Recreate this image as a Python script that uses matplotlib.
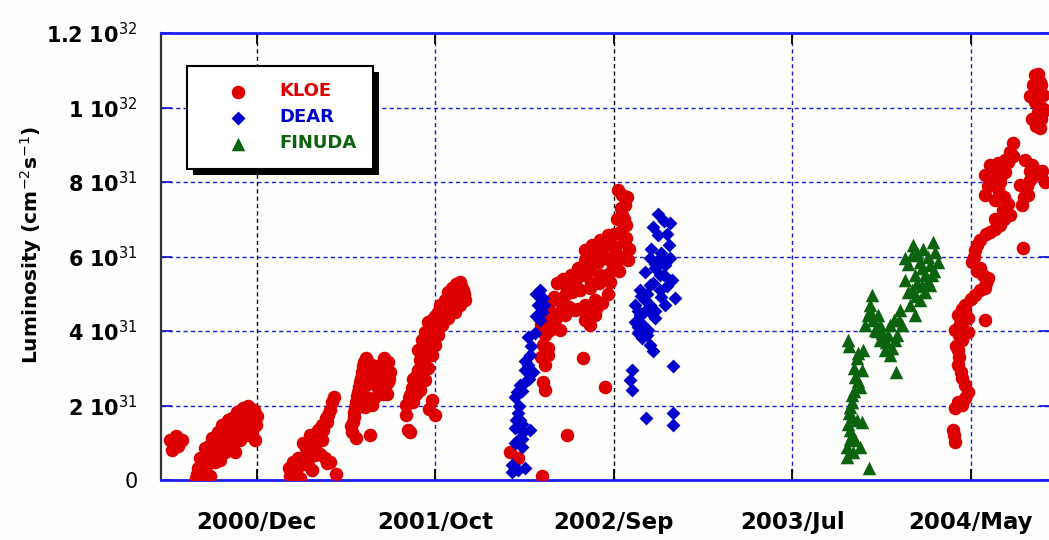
import matplotlib
matplotlib.use("Agg")
import matplotlib.pyplot as plt
from matplotlib.patches import Rectangle

plt.rcParams['font.family'] = ['DejaVu Sans']
plt.rcParams['mathtext.fontset'] = 'dejavusans'

# x: days counted from the 2000/Dec tick; y: luminosity in units of 1e31 cm^-2 s^-1
tick_days = [0, 300, 600, 900, 1200]
tick_labels = ["2000/Dec", "2001/Oct", "2002/Sep", "2003/Jul", "2004/May"]
tick_colors = ["black", "#1c1cd0", "black", "#1c1cd0", "#1c1cd0"]
lum_ticks = [0, 2, 4, 6, 8, 10, 12]
lum_labels = ["0", r"$\mathbf{2\ 10}^{31}$", r"$\mathbf{4\ 10}^{31}$", r"$\mathbf{6\ 10}^{31}$",
              r"$\mathbf{8\ 10}^{31}$", r"$\mathbf{1\ 10}^{32}$", r"$\mathbf{1.2\ 10}^{32}$"]

# KLOE runs: 2000, 2001 (three fills), 2002, 2004
kloe_day = [
    -146, -133, -126, -143, -136,
    -103, -91, -79, -99, -86, -96, -79, -71, -87, -76, -66, -59, -49, -42, -34,
    -24, -15, -5, 0, -2, -3, -8, -20, -32, -45, -37, -54, -62, -71, -49, -29,
    -62, -79, -96, -54, -29, -15,
    -91, -84, -74, -66, -57, -44, -38, -28, -20, -10, -12, -8, -40, -56, -66,
    -100, -86, -91, -80, -70, -45, -35, -25, -15, -40,
    55, 64, 72, 61, 77, 86, 77, 92, 99, 103, 109, 116, 123, 126, 129, 109, 97,
    114, 123, 133, 86, 72, 92, 54, 89,
    60, 68, 80, 70, 82, 95, 100, 105, 112, 118, 120, 96, 106, 118,
    160, 161, 163, 166, 170, 173, 176, 180, 183, 193, 200, 207, 213, 220, 224,
    220, 215, 203, 193, 183, 176, 187, 193, 173, 190, 166, 190,
    158, 163, 165, 168, 171, 175, 178, 186, 190, 197, 205, 211, 218, 222, 218,
    210, 205, 197, 182,
    254, 250, 257, 261, 266, 271, 274, 271, 277, 282, 287, 294, 304, 308, 316,
    321, 328, 334, 341, 346, 350, 341, 333, 321, 311, 304, 299, 294, 287, 282,
    274, 294, 299, 284, 291, 250, 257,
    262, 268, 270, 276, 279, 280, 285, 289, 295, 300, 306, 313, 318, 325, 330,
    337, 343, 348, 300, 288, 276, 268, 262, 255, 290,
    607, 613, 618, 613, 620, 610, 617, 624, 551, 563, 576, 590, 597, 585, 573,
    560, 576, 597, 607, 593, 506, 518, 529, 543, 560, 568, 551, 534, 518, 501,
    509, 551, 568, 560, 484, 492, 484, 481, 489, 484, 481, 484, 548, 585, 521,
    479, 425, 439, 526, 543, 576, 593, 602,
    505, 515, 528, 540, 552, 565, 580, 592, 600, 605, 612, 617, 622, 520, 535,
    548, 562, 575, 588, 600, 608, 615, 620, 625, 512, 525, 540, 556, 570, 580,
    590, 500, 478, 486, 495, 500, 490, 490, 478,
    1308, 1316, 1313, 1308, 1313, 1308, 1316, 1324, 1321,
    1271, 1266, 1262, 1232, 1224, 1240, 1257, 1249, 1232, 1224, 1240, 1254,
    1291, 1303, 1316, 1299, 1296, 1286, 1282, 1324, 1287, 1266,
    1249, 1232, 1215, 1207, 1202, 1215, 1229, 1224, 1207, 1190, 1178, 1195,
    1224, 1173, 1185, 1195, 1178, 1178, 1185, 1195, 1185, 1173, 1170, 1173,
    1305, 1312, 1318, 1310, 1270, 1258, 1245, 1235, 1250, 1228, 1245, 1256, 1262,
    1300, 1310, 1320, 1295, 1290, 1240, 1255, 1225, 1240, 1210, 1205, 1210, 1220,
    1225, 1215, 1200, 1185, 1182, 1190, 1180, 1190, 1175, 1180, 1183, 1190, 1190,
    1178, 1172, 1300, 1302, 1320, 1318, 1312,
]
kloe_lum = [
    1.07, 0.91, 1.07, 0.81, 1.18,
    0.05, 0.05, 0.11, 0.32, 0.38, 0.59, 0.67, 0.94, 0.86, 1.13, 1.29, 1.48, 1.61, 1.66, 1.83,
    1.93, 1.99, 1.88, 1.72, 1.48, 1.07, 1.29, 1.34, 1.29, 1.07, 0.75, 0.75, 0.54, 0.48, 0.94, 1.56,
    1.07, 0.48, 0.21, 1.21, 1.07, 1.66,
    0.30, 0.55, 0.75, 0.90, 1.05, 1.25, 1.45, 1.75, 1.70, 1.60, 1.45, 1.85, 0.95, 0.95, 0.70,
    0.15, 0.20, 0.45, 0.90, 1.15, 1.45, 1.55, 1.45, 1.20, 1.15,
    0.11, 0.27, 0.40, 0.48, 0.59, 0.75, 0.99, 0.94, 1.13, 1.34, 1.48, 1.66, 1.88, 2.09, 2.23, 1.07, 0.67,
    0.59, 0.48, 0.16, 0.40, 0.05, 0.27, 0.32, 1.21,
    0.20, 0.35, 0.50, 0.60, 0.85, 0.80, 1.00, 1.20, 1.35, 1.55, 1.75, 1.10, 0.70, 0.45,
    1.29, 1.56, 1.83, 2.09, 2.36, 2.63, 2.90, 3.17, 3.28, 3.09, 2.90, 3.09, 3.28, 3.17, 2.90,
    2.63, 2.42, 2.47, 2.63, 2.55, 2.28, 2.20, 2.01, 2.01, 1.21, 1.13, 2.82,
    1.45, 1.70, 1.95, 2.25, 2.50, 2.75, 3.05, 3.20, 3.00, 2.80, 2.70, 2.85, 2.95, 2.70, 2.30,
    2.30, 2.55, 2.20, 1.95,
    1.34, 2.01, 2.28, 2.47, 2.68, 2.95, 3.22, 3.49, 3.76, 3.97, 4.24, 4.30, 4.51, 4.70, 4.83,
    5.05, 5.15, 5.26, 5.32, 5.10, 4.83, 4.70, 4.51, 4.35, 4.16, 3.89, 3.62, 3.36, 3.01, 2.68,
    2.42, 2.15, 1.74, 3.62, 4.03, 1.74, 1.29,
    2.10, 2.30, 2.60, 2.85, 3.10, 3.35, 3.30, 3.80, 3.95, 4.15, 4.30, 4.45, 4.60, 4.75, 4.95,
    5.00, 5.20, 5.00, 4.40, 4.00, 3.30, 2.80, 2.70, 2.20, 1.90,
    7.79, 7.65, 7.38, 7.11, 6.85, 6.66, 6.39, 5.91, 6.17, 6.31, 6.44, 6.58, 6.31, 5.96, 5.85,
    5.64, 5.50, 5.64, 5.91, 5.32, 4.83, 4.97, 5.05, 5.10, 5.15, 4.83, 4.70, 4.56, 4.43, 4.30,
    4.03, 4.30, 4.43, 4.16, 4.30, 4.03, 3.89, 3.62, 3.36, 3.09, 2.63, 2.42, 3.28, 2.50, 1.21,
    0.11, 0.75, 0.59, 5.37, 5.50, 6.04, 5.91, 6.17,
    5.30, 5.40, 5.50, 5.70, 5.90, 6.00, 6.20, 6.40, 6.60, 7.00, 7.30, 7.00, 7.60, 5.20, 5.30,
    5.50, 5.30, 5.30, 5.50, 5.70, 5.60, 6.00, 6.50, 6.20, 4.55, 4.65, 4.60, 4.55, 4.60, 4.75,
    5.00, 4.90, 4.20, 4.45, 4.20, 4.45, 4.65, 3.55, 3.30,
    10.87, 10.68, 10.42, 10.15, 9.88, 9.66, 9.45, 9.93, 10.34,
    9.05, 8.81, 8.54, 8.46, 8.19, 8.32, 8.27, 8.00, 7.92, 7.65, 7.52, 7.25,
    8.59, 8.46, 8.19, 8.05, 7.65, 7.38, 7.92, 8.00, 6.23, 7.11,
    6.85, 6.66, 6.44, 6.17, 5.85, 5.69, 5.42, 5.15, 4.97, 4.70, 4.43, 4.35,
    4.30, 4.03, 3.76, 3.97, 3.49, 3.09, 2.74, 2.36, 2.01, 1.93, 1.34, 1.02,
    10.60, 10.20, 9.70, 9.50, 8.70, 8.60, 8.50, 8.10, 8.20, 7.90, 7.80, 7.60, 7.40,
    8.30, 8.30, 8.30, 7.90, 7.60, 7.00, 7.00, 6.60, 6.75, 6.30, 6.00, 5.60, 5.50,
    5.30, 5.10, 4.85, 4.60, 4.20, 4.50, 3.90, 4.00, 3.60, 3.30, 2.90, 2.55, 2.20,
    2.10, 1.20, 10.30, 9.70, 10.00, 10.60, 10.90,
]

# DEAR runs: early 2002 and late 2002
dear_day = [
    476, 481, 472, 479, 476, 455, 467, 459, 455, 464, 450, 442, 437, 450, 434,
    439, 442, 434, 447, 459, 439, 445, 429, 439, 450, 429,
    470, 482, 470, 461, 450, 457, 446, 440, 436, 445, 434, 445,
    674, 694, 666, 674, 692, 661, 677, 694, 686, 669, 652, 677, 697, 661, 644,
    677, 703, 652, 635, 661, 686, 644, 669, 635, 657, 647, 661, 640, 666, 699,
    630, 627, 630, 654, 699, 699,
    640, 650, 660, 670, 680, 690, 685, 665, 655, 645, 640, 648, 655, 670, 680,
    662, 690, 684,
]
dear_lum = [
    5.10, 4.89, 4.70, 4.51, 4.30, 3.84, 3.95, 3.36, 3.09, 2.90, 2.95, 2.55, 2.36, 2.63, 2.23,
    1.80, 1.61, 1.40, 1.29, 1.34, 1.07, 0.89, 0.40, 0.27, 0.32, 0.21,
    5.00, 4.70, 4.40, 3.60, 3.20, 2.70, 2.40, 2.00, 1.60, 1.50, 1.00, 1.10,
    7.14, 6.90, 6.79, 6.58, 6.31, 5.96, 5.96, 5.96, 5.77, 5.69, 5.58, 5.50, 5.37, 5.23, 5.10,
    5.10, 4.89, 4.83, 4.70, 4.70, 4.70, 4.43, 4.35, 4.24, 4.03, 3.81, 3.62, 3.95, 3.46, 3.06,
    2.95, 2.68, 2.42, 1.66, 1.80, 1.48,
    4.55, 4.50, 4.50, 4.55, 4.90, 5.20, 5.50, 5.30, 5.00, 4.95, 4.10, 4.20, 3.90, 5.80, 6.10,
    6.20, 6.60, 6.95,
]

# FINUDA run: 2003-2004
finuda_day = [
    1103, 1136, 1089, 1101, 1114, 1140, 1145, 1131, 1123, 1106, 1089, 1101, 1114, 1097,
    1131, 1123, 1106,
    1034, 1030, 1027, 1044, 1022, 1039, 1047, 1055, 1064, 1072, 1081, 1084, 1064, 1047, 1074,
    993, 1018, 1008, 1017, 1005, 1013, 1000, 997, 1000, 1017, 997, 992, 1013, 992, 1029, 1005,
    1095, 1110, 1120, 1128, 1138, 1118, 1110, 1095, 1108, 1118, 1135, 1128,
    1030, 1036, 1042, 1050, 1058, 1068, 1076, 1080, 1070, 1060,
    996, 1010, 1003, 1010, 1004, 1000, 996, 1008, 994, 1000, 1002, 997,
]
finuda_lum = [
    6.31, 6.39, 5.96, 6.04, 5.85, 6.12, 5.85, 5.77, 5.50, 5.50, 5.37, 5.10, 4.83, 4.70,
    5.23, 5.05, 4.43,
    4.97, 4.70, 4.43, 4.43, 4.16, 4.03, 3.76, 3.49, 3.36, 3.76, 4.56, 4.16, 4.16, 4.16, 2.90,
    3.76, 3.49, 3.28, 2.95, 2.77, 2.50, 2.28, 1.96, 1.69, 1.56, 1.34, 0.89, 0.89, 0.62, 0.32, 1.07,
    5.80, 6.10, 6.20, 6.00, 5.60, 5.70, 5.30, 5.05, 4.95, 5.20, 5.50, 5.35,
    4.55, 4.30, 4.00, 3.95, 3.70, 3.55, 3.90, 4.30, 4.30, 3.90,
    3.60, 3.40, 3.00, 2.65, 2.40, 2.10, 1.80, 1.60, 1.50, 1.20, 0.75, 1.10,
]

RED = "#dc0000"
BLUE = "#0000cc"
GREEN = "#0b620f"
GRID_BLUE = "#1c1cd0"
BG = "#fefefc"

W, H = 1049, 540
fig = plt.figure(figsize=(W / 100, H / 100), dpi=100, facecolor=BG)
ax = fig.add_axes([161 / W, 1 - 480 / H, (1050 - 161) / W, (480 - 33) / H], facecolor=BG)

ax.scatter(kloe_day, kloe_lum, s=95, marker="o", color=RED, linewidths=0, label="KLOE", zorder=3)
ax.scatter(dear_day, dear_lum, s=50, marker="D", color=BLUE, linewidths=0, label="DEAR", zorder=3)
ax.scatter(finuda_day, finuda_lum, s=95, marker="^", color=GREEN, linewidths=0, label="FINUDA", zorder=3)

ax.set_xlim(-161, 1333)
ax.set_ylim(0, 12)
ax.set_xticks(tick_days)
ax.set_xticklabels(tick_labels, fontsize=16.5, fontweight="bold")
ax.set_yticks(lum_ticks)
ax.set_yticklabels(lum_labels, fontsize=15)

dots = (0, (3, 2.3))
ax.grid(True, linestyle=dots, linewidth=1.0, color=GRID_BLUE)
ax.set_axisbelow(True)
ax.tick_params(axis="both", direction="in", length=8, width=1.3, top=True, right=True)
ax.tick_params(axis="x", pad=22, colors="black")
ax.tick_params(axis="y", pad=17, colors=GRID_BLUE, labelcolor="black")
for tick, col in zip(ax.xaxis.get_major_ticks(), tick_colors):
    tick.tick1line.set_color(col)
    tick.tick2line.set_color(col)
    tick.gridline.set_color(col)

for side in ["top", "bottom", "right"]:
    ax.spines[side].set_color("#1e1ef0")
    ax.spines[side].set_linewidth(2)
ax.spines["left"].set_color("#333333")
ax.spines["left"].set_linewidth(1.6)

fig.text(31 / W, 1 - 245 / H, r"Luminosity (cm$^{-2}$s$^{-1}$)", rotation=90,
         ha="center", va="center", fontsize=14.5, fontweight="bold")

leg = ax.legend(loc="upper left", bbox_to_anchor=(187 / W, 1 - 66 / H),
                bbox_transform=fig.transFigure, borderaxespad=0, fancybox=False,
                framealpha=1, edgecolor="black", facecolor="white",
                handlelength=3.8, handletextpad=0.4, borderpad=0.9, labelspacing=0.45,
                prop={"size": 13, "weight": "bold"})
leg.get_frame().set_linewidth(1.5)
for txt, col in zip(leg.get_texts(), [RED, BLUE, GREEN]):
    txt.set_color(col)
leg.set_zorder(6)

# drop shadow behind the legend box
fig.canvas.draw()
bb = leg.get_window_extent().transformed(fig.transFigure.inverted())
shadow = Rectangle((bb.x0 + 6 / W, bb.y0 - 6 / H), bb.width, bb.height,
                   transform=fig.transFigure, facecolor="black", edgecolor="none",
                   zorder=5.5, clip_on=False)
ax.add_artist(shadow)

fig.savefig("out.png", dpi=100, facecolor=BG)
